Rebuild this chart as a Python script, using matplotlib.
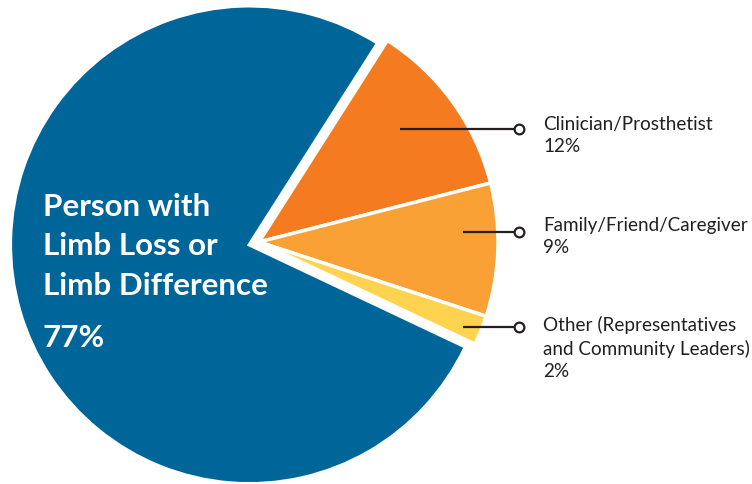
import matplotlib
matplotlib.use("Agg")
import matplotlib.pyplot as plt

# ---- data ----
categories = ["Clinician/Prosthetist", "Family/Friend/Caregiver",
              "Other (Representatives\nand Community Leaders)",
              "Person with\nLimb Loss or\nLimb Difference"]
shares = [12, 9, 2, 77]
colors = ["#F47B20", "#F9A134", "#FFD24F", "#00669A"]

W, H = 752, 485
CX, CY, R = 259, 243, 239      # pie centre / radius in pixels


def px(x, y):
    # pixel position (from top-left) -> data coords of the pie axes
    return (x - CX) / R, (CY - y) / R


fig = plt.figure(figsize=(W / 100, H / 100), dpi=100)
ax = fig.add_axes([0, 0, 1, 1])

ax.pie(shares, colors=colors, startangle=57.5, counterclock=False,
       explode=[0, 0, 0, 0.042], radius=1.0,
       wedgeprops=dict(edgecolor="white", linewidth=2.5))

x0, y0 = px(0, H)
x1, y1 = px(W, 0)
ax.set_xlim(x0, x1)
ax.set_ylim(y0, y1)
ax.set_aspect("equal")
ax.axis("off")

# leader lines + outside labels (layout in pixels)
line_start_x = [400, 463, 463]
line_y = [130, 233, 328]
label_last_baseline = [152, 253, 377]
dark = "#231F20"
lab_font = "Lato"
for i in range(3):
    xa, ya = px(line_start_x[i], line_y[i])
    xb, _ = px(519, line_y[i])
    ax.plot([xa, xb], [ya, ya], color=dark, lw=1.6, solid_capstyle="butt")
    ax.plot([xb], [ya], "o", ms=7, mfc="white", mec=dark, mew=1.6)
    tx, ty = px(543, label_last_baseline[i])
    ax.text(tx, ty, f"{categories[i]}\n{shares[i]}%", ha="left", va="baseline",
            fontsize=13.6, color=dark, family=lab_font, linespacing=1.38)

# big label inside the blue wedge
big = dict(ha="left", va="baseline", fontsize=22.6, color="white",
           fontweight="bold", family=lab_font)
for line, base in zip(categories[3].split("\n"), [216, 255, 295]):
    bx, by = px(43, base)
    ax.text(bx, by, line, **big)
bx, by = px(43, 347)
ax.text(bx, by, f"{shares[3]}%", **big)

fig.savefig("out.png", dpi=100)
